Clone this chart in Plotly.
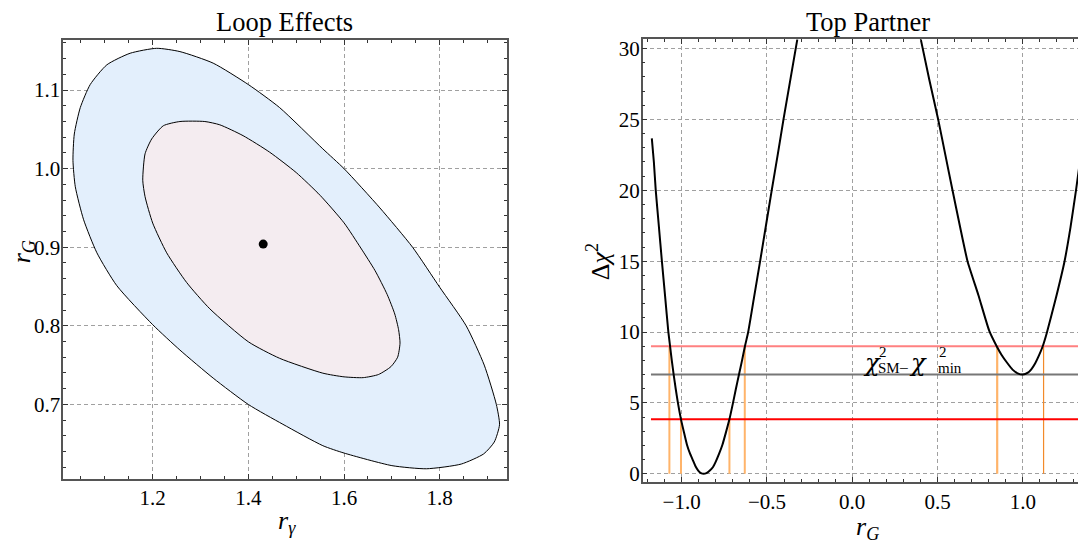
import plotly.graph_objects as go

# ---------------- data: left panel (Loop Effects) ----------------
outer_rgamma = [1.2083, 1.2569, 1.3264, 1.4000, 1.4653, 1.5556, 1.6000, 1.6750, 1.7432, 1.8000,
                1.8553, 1.8930, 1.9183, 1.9250, 1.9140, 1.8920, 1.8450, 1.7720, 1.7000, 1.6000,
                1.5556, 1.4722, 1.4000, 1.3264, 1.2569, 1.2000, 1.1250, 1.0833, 1.0556, 1.0382,
                1.0333, 1.0361, 1.0486, 1.0694, 1.1042, 1.1528, 1.2083]
outer_rG = [1.1532, 1.1490, 1.1343, 1.1070, 1.0777, 1.0252, 1.0000, 0.9500, 0.9000, 0.8490,
            0.8000, 0.7500, 0.7000, 0.6740, 0.6520, 0.6370, 0.6240, 0.6180, 0.6220, 0.6380,
            0.6474, 0.6746, 0.6998, 0.7334, 0.7691, 0.8014, 0.8510, 0.8929, 0.9349, 0.9769,
            1.0105, 1.0441, 1.0777, 1.1071, 1.1322, 1.1469, 1.1532]

inner_rgamma = [1.2569, 1.3090, 1.3403, 1.3889, 1.4444, 1.5000, 1.5500, 1.6000, 1.6350, 1.6650,
                1.6900, 1.7060, 1.7140, 1.7170, 1.7120, 1.6980, 1.6720, 1.6400, 1.6000, 1.5556,
                1.4653, 1.4000, 1.3194, 1.2708, 1.2292, 1.2000, 1.1840, 1.1792, 1.1840, 1.1979,
                1.2222, 1.2569]
inner_rG = [1.0600, 1.0600, 1.0558, 1.0420, 1.0210, 0.9950, 0.9660, 0.9310, 0.8990, 0.8700,
            0.8400, 0.8150, 0.7950, 0.7780, 0.7600, 0.7480, 0.7380, 0.7340, 0.7350, 0.7397,
            0.7586, 0.7796, 0.8216, 0.8552, 0.8929, 0.9307, 0.9643, 0.9853, 1.0189, 1.0378,
            1.0546, 1.0600]

best_rgamma = [1.431]
best_rG = [0.904]

left_xticks = [1.2, 1.4, 1.6, 1.8]
left_yticks = [0.7, 0.8, 0.9, 1.0, 1.1]

# ---------------- data: right panel (Top Partner) ----------------
branch1_rG = [-1.175, -1.163, -1.152, -1.134, -1.116, -1.097, -1.078, -1.068, -1.058, -1.047,
              -1.035, -1.022, -1.004, -0.987, -0.969, -0.952, -0.934, -0.919, -0.903, -0.887,
              -0.871, -0.855, -0.838, -0.816, -0.800, -0.781, -0.761, -0.742, -0.720, -0.699,
              -0.682, -0.664, -0.646, -0.629, -0.610, -0.575, -0.540, -0.506, -0.472, -0.437,
              -0.403, -0.322]
branch1_dchi2 = [23.67, 22.0, 20.0, 17.5, 15.0, 12.5, 10.0, 9.0, 8.0, 7.0,
                 6.0, 5.0, 3.84, 2.95, 2.05, 1.45, 0.95, 0.53, 0.23, 0.05,
                 0.0, 0.05, 0.2, 0.48, 0.86, 1.4, 2.05, 2.85, 3.84, 5.0,
                 6.0, 7.0, 8.0, 9.0, 10.0, 12.5, 15.0, 17.5, 20.0, 22.5,
                 25.0, 30.65]

branch2_rG = [0.402, 0.452, 0.504, 0.546, 0.588, 0.631, 0.676, 0.740, 0.803, 0.847, 0.875, 0.907,
              0.940, 0.970, 1.000, 1.030, 1.050, 1.073, 1.095, 1.117, 1.140, 1.190, 1.245,
              1.280, 1.312, 1.346]
branch2_dchi2 = [30.65, 27.8, 25.0, 22.5, 20.0, 17.5, 15.0, 12.6, 10.1, 9.0, 8.4, 7.85,
                 7.35, 7.09, 7.0, 7.13, 7.37, 7.8, 8.35, 9.0, 9.9, 12.2, 15.0,
                 17.4, 20.0, 23.0]

level_values = [9.0, 7.0, 3.84]          # 3 sigma, chi2_SM - chi2_min, 95% CL
level_colors = ["#ff8080", "#777777", "#ff0000"]
level_span = [-1.18, 1.37]

cross_rG = [-1.072, -1.004, -0.720, -0.630, 0.850, 1.122]
cross_top = [9.0, 3.84, 3.84, 9.0, 9.0, 9.0]
cross_colors = ["#ffb46a", "#ffb46a", "#ffb46a", "#ffb46a", "#ffb46a", "#f28a2a"]
cross_widths = [2, 2, 2, 2, 2.2, 1.2]

right_xticks = [-1.0, -0.5, 0.0, 0.5, 1.0]
right_yticks = [0, 5, 10, 15, 20, 25, 30]

FONT = "Liberation Serif"
W, H = 1086, 548
OX, OY = 8, 8   # page body margin offset


def px(xs):
    return (xs - OX) / W


def py(ys):
    return 1 - (ys - OY) / H


fig = go.Figure()

# left panel
fig.add_trace(go.Scatter(x=outer_rgamma, y=outer_rG, mode="lines", fill="toself",
                         fillcolor="#e3effc",
                         line=dict(color="black", width=1, shape="spline", smoothing=0.6),
                         xaxis="x", yaxis="y", showlegend=False, hoverinfo="skip"))
fig.add_trace(go.Scatter(x=inner_rgamma, y=inner_rG, mode="lines", fill="toself",
                         fillcolor="#f4ecf0",
                         line=dict(color="black", width=1, shape="spline", smoothing=0.6),
                         xaxis="x", yaxis="y", showlegend=False, hoverinfo="skip"))
fig.add_trace(go.Scatter(x=best_rgamma, y=best_rG, mode="markers",
                         marker=dict(color="black", size=9),
                         xaxis="x", yaxis="y", showlegend=False))

# right panel: vertical crossing lines
for xv, top, c, w in zip(cross_rG, cross_top, cross_colors, cross_widths):
    fig.add_trace(go.Scatter(x=[xv, xv], y=[0, top], mode="lines",
                             line=dict(color=c, width=w),
                             xaxis="x2", yaxis="y2", showlegend=False, hoverinfo="skip"))
# horizontal levels
for lv, c in zip(level_values, level_colors):
    fig.add_trace(go.Scatter(x=level_span, y=[lv, lv], mode="lines",
                             line=dict(color=c, width=2),
                             xaxis="x2", yaxis="y2", showlegend=False, hoverinfo="skip"))
# curve
for bx, by in [(branch1_rG, branch1_dchi2), (branch2_rG, branch2_dchi2)]:
    fig.add_trace(go.Scatter(x=bx, y=by, mode="lines",
                             line=dict(color="black", width=2, shape="spline", smoothing=0.5),
                             xaxis="x2", yaxis="y2", showlegend=False))

frame_col = "#555555"
grid_col = "#a0a0a0"


def axis_common(domain, rng, tickvals, fmt, minor_dtick, anchor, mirror=True, standoff=0):
    return dict(domain=domain, range=rng, tickvals=tickvals, tickformat=fmt,
                showline=True, linecolor=frame_col, linewidth=1.5,
                mirror="allticks" if mirror else False,
                ticks="inside", ticklen=5, tickwidth=1, tickcolor="#333",
                showgrid=True, gridcolor=grid_col, griddash="4px,3px", gridwidth=1,
                zeroline=False, anchor=anchor, ticklabelstandoff=standoff,
                tickfont=dict(family=FONT, size=21, color="black"),
                minor=dict(dtick=minor_dtick, ticks="inside", ticklen=3, tickcolor="#333",
                           showgrid=False, tick0=0))


layout = dict(
    width=W, height=H, margin=dict(l=0, r=0, t=0, b=0),
    font=dict(family=FONT, color="black"),
    paper_bgcolor="white", plot_bgcolor="white", showlegend=False,
    xaxis=axis_common([px(63.3), px(506.7)], [1.0131, 1.940], left_xticks, ".1f", 0.05, "y"),
    yaxis=axis_common([py(481.7), py(38.3)], [0.6056, 1.1638], left_yticks, ".1f", 0.02, "x",
                      standoff=-3),
    xaxis2=axis_common([px(642.7), px(1086)], [-1.2285, 1.3707], right_xticks, ".1f", 0.1, "y2"),
    yaxis2=axis_common([py(485), py(37.7)], [-0.565, 30.65], right_yticks, "d", 1, "x2",
                       mirror=False, standoff=-3),
)
fig.update_layout(**layout)

ann = []


def txt(text, x, y, size, xref="paper", yref="paper", xanchor="center", yanchor="middle",
        angle=0, family=FONT):
    ann.append(dict(text=text, x=x, y=y, xref=xref, yref=yref, xanchor=xanchor, yanchor=yanchor,
                    showarrow=False, textangle=angle,
                    font=dict(family=family, size=size, color="black")))


txt("Loop Effects", px(284.9), py(20), 26.5)
txt("Top Partner", px(867.7), py(20), 26.5)
txt("<i>r</i><sub><i>γ</i></sub>", px(287), py(526), 26)
txt("<i>r</i><sub><i>G</i></sub>", px(23), py(253), 26, angle=-90)
txt("<i>r</i><sub><i>G</i></sub>", px(867), py(532), 26)
txt("Δ<i>χ</i><sup>2</sup>", px(598), py(262), 26, angle=-90)

# label chi2_SM - chi2_min (stacked sub/superscripts)
CHI_FONT = "DejaVu Serif"
txt("<i>χ</i>", 0.050, 7.8, 24, "x2", "y2", "left", "middle", family=CHI_FONT)
txt("2", 0.143, 8.6, 15, "x2", "y2", "left", "middle")
txt("SM", 0.140, 7.46, 15, "x2", "y2", "left", "middle")
txt("−", 0.306, 7.46, 17, "x2", "y2", "center", "middle")
txt("<i>χ</i>", 0.322, 7.8, 24, "x2", "y2", "left", "middle", family=CHI_FONT)
txt("2", 0.495, 8.6, 15, "x2", "y2", "left", "middle")
txt("min", 0.492, 7.43, 15, "x2", "y2", "left", "middle")

fig.update_layout(annotations=ann)
fig.write_html("out.html")
